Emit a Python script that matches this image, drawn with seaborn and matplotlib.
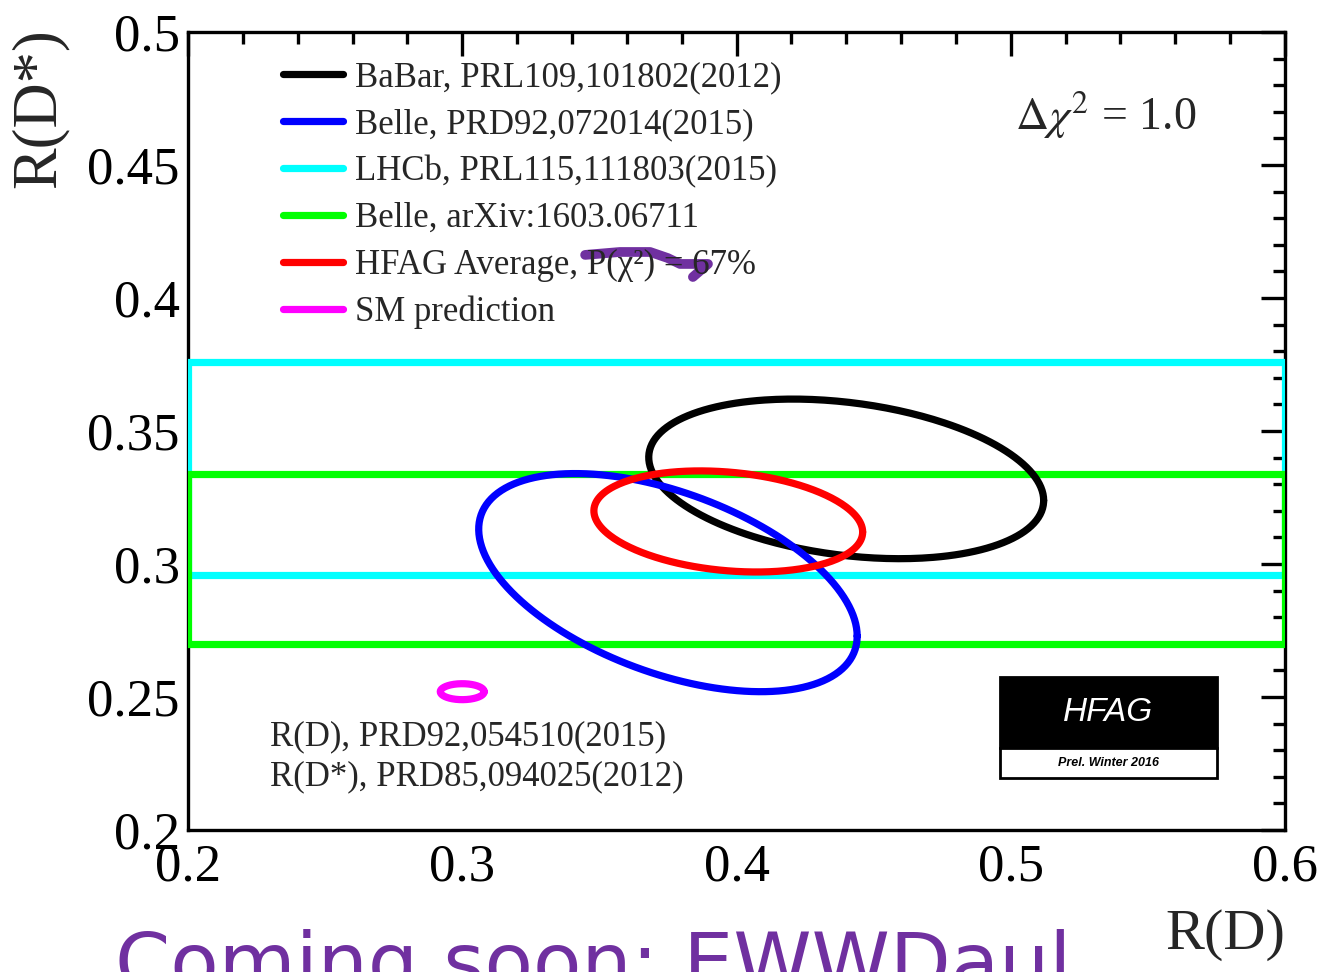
import numpy as np
import pandas as pd
import seaborn as sns
import matplotlib.pyplot as plt
from matplotlib.lines import Line2D
from matplotlib.patches import Rectangle
from matplotlib.ticker import MultipleLocator, FormatStrFormatter

# measurements: R(D), R(D*) with total errors and correlation
ell_names = ['BaBar, PRL109,101802(2012)', 'Belle, PRD92,072014(2015)',
             'HFAG Average, P(χ²) = 67%', 'SM prediction']
ell_rd = [0.440, 0.375, 0.397, 0.300]
ell_rd_err = [0.072, 0.069, 0.049, 0.008]
ell_rds = [0.332, 0.293, 0.316, 0.252]
ell_rds_err = [0.030, 0.041, 0.019, 0.003]
ell_rho = [-0.27, -0.49, -0.21, 0.0]

# R(D*)-only measurements -> horizontal bands
band_names = ['LHCb, PRL115,111803(2015)', 'Belle, arXiv:1603.06711']
band_rds = [0.336, 0.302]
band_err = [0.040, 0.032]

legend_order = ['BaBar, PRL109,101802(2012)', 'Belle, PRD92,072014(2015)',
                'LHCb, PRL115,111803(2015)', 'Belle, arXiv:1603.06711',
                'HFAG Average, P(χ²) = 67%', 'SM prediction']
legend_colors = ['#000000', '#0000ff', '#00ffff', '#00ff00', '#ff0000', '#ff00ff']
draw_order = [2, 3, 0, 1, 4, 5]

# purple pen stroke over the p-value
pen_x = [0.3448, 0.3575, 0.3685, 0.3750, 0.3794, 0.3896, 0.3841]
pen_y = [0.4162, 0.4173, 0.4173, 0.4150, 0.4128, 0.4128, 0.4079]

rows = []
t = np.linspace(0, 2 * np.pi, 300)
for n, cx, sx, cy, sy, r in zip(ell_names, ell_rd, ell_rd_err, ell_rds, ell_rds_err, ell_rho):
    xs = cx + sx * np.cos(t)
    ys = cy + sy * (r * np.cos(t) + np.sqrt(1 - r ** 2) * np.sin(t))
    rows.append(pd.DataFrame({'rd': xs, 'rds': ys, 'name': n}))
for n, c, e in zip(band_names, band_rds, band_err):
    rows.append(pd.DataFrame({'rd': [0.2, 0.6, 0.6, 0.2, 0.2],
                              'rds': [c - e, c - e, c + e, c + e, c - e], 'name': n}))
df = pd.concat(rows, ignore_index=True)

sns.set_style('white')
plt.rcParams['font.family'] = ['Liberation Serif', 'DejaVu Serif']
plt.rcParams['mathtext.fontset'] = 'stix'

fig = plt.figure(figsize=(13.21, 9.72), dpi=100)
ax = fig.add_axes([188 / 1321, 1 - 830 / 972, 1097 / 1321, 798 / 972])

pal = dict(zip(legend_order, legend_colors))
hue_order = [legend_order[i] for i in draw_order]
sns.lineplot(data=df, x='rd', y='rds', hue='name', hue_order=hue_order, palette=pal,
             sort=False, estimator=None, units='name', lw=5.2, legend=False, ax=ax,
             solid_joinstyle='miter')

ax.set_xlim(0.2, 0.6)
ax.set_ylim(0.2, 0.5)
ax.set_xlabel('')
ax.set_ylabel('')

ax.xaxis.set_major_locator(MultipleLocator(0.1))
ax.xaxis.set_minor_locator(MultipleLocator(0.02))
ax.yaxis.set_major_locator(MultipleLocator(0.05))
ax.yaxis.set_minor_locator(MultipleLocator(0.01))
ax.xaxis.set_major_formatter(FormatStrFormatter('%g'))
ax.yaxis.set_major_formatter(FormatStrFormatter('%g'))
ax.tick_params(which='both', direction='in', top=True, right=True, width=2.4, colors='black')
ax.tick_params(which='major', length=17)
ax.tick_params(which='minor', length=8.5)
ax.tick_params(axis='y', labelsize=38, pad=6)
ax.tick_params(axis='x', labelsize=38, pad=10)
for s in ax.spines.values():
    s.set_linewidth(2.4)
    s.set_color('black')
    s.set_zorder(0.5)

# legend
handles = [Line2D([], [], color=c, lw=5.2) for c in legend_colors]
ax.legend(handles, legend_order, loc='upper left', bbox_to_anchor=(0.0866, 0.9635),
          frameon=False, fontsize=25, handlelength=1.72, handletextpad=0.35,
          labelspacing=0.4, borderpad=0, borderaxespad=0)

# pen annotation
ax.plot(pen_x, pen_y, color='#7030a0', lw=7, solid_capstyle='round',
        solid_joinstyle='round', zorder=5)

ax.text(0.5016, 0.4688, '$\\Delta\\chi^2$ = 1.0', fontsize=33, va='center', ha='left')
ax.text(0.2299, 0.235, 'R(D), PRD92,054510(2015)', fontsize=25, va='center')
ax.text(0.2299, 0.220, 'R(D*), PRD85,094025(2012)', fontsize=25, va='center')

# HFAG logo
ax.add_patch(Rectangle((0.740, 0.1028), 0.198, 0.089, transform=ax.transAxes,
                       facecolor='black', edgecolor='black', lw=2, zorder=6))
ax.add_patch(Rectangle((0.740, 0.0652), 0.198, 0.0376, transform=ax.transAxes,
                       facecolor='white', edgecolor='black', lw=2, zorder=6))
ax.text(0.839, 0.147, 'HFAG', transform=ax.transAxes, color='white', fontsize=24,
        family='Liberation Sans', style='italic', ha='center', va='center', zorder=7)
ax.text(0.839, 0.084, 'Prel. Winter 2016', transform=ax.transAxes, color='black',
        fontsize=9, family='Liberation Sans', style='italic', weight='bold',
        ha='center', va='center', zorder=7)

fig.text(1285 / 1321, 1 - 935 / 972, 'R(D)', fontsize=42, ha='right', va='center')
fig.text(40 / 1321, 1 - 28 / 972, 'R(D*)', fontsize=45, rotation=90, ha='center', va='top')

# handwritten note at the bottom (cut off by the page edge)
fig.text(115 / 1321, -0.018, 'Coming soon: EWWDaul', fontsize=57, color='#7030a0',
         ha='left', va='baseline', family='DejaVu Sans')

fig.savefig('out.png', dpi=100)
